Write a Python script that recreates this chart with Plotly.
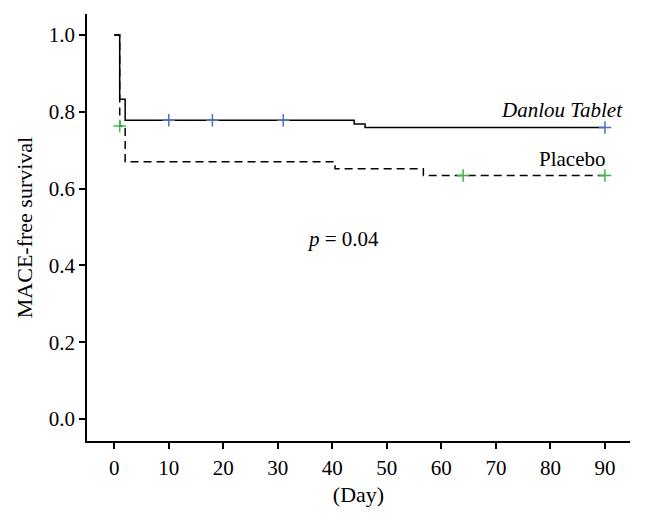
import plotly.graph_objects as go

# Kaplan-Meier step curves
danlou_days = [0, 1, 2, 44, 46, 90]
danlou_surv = [1.0, 0.833, 0.778, 0.768, 0.759, 0.759]
danlou_censor_days = [10, 18, 31, 90]
danlou_censor_surv = [0.778, 0.778, 0.778, 0.759]

placebo_days = [0, 1, 2, 40.5, 56.7, 90]
placebo_surv = [1.0, 0.763, 0.670, 0.652, 0.634, 0.634]
placebo_censor_days = [1, 64, 90]
placebo_censor_surv = [0.763, 0.634, 0.634]

x_ticks = [0, 10, 20, 30, 40, 50, 60, 70, 80, 90]
y_ticks = [0.0, 0.2, 0.4, 0.6, 0.8, 1.0]

FONT = "Liberation Serif"

fig = go.Figure()
fig.add_trace(go.Scatter(x=danlou_days, y=danlou_surv, mode="lines",
                         line=dict(shape="hv", color="black", width=1.5),
                         showlegend=False, hoverinfo="skip"))
fig.add_trace(go.Scatter(x=placebo_days, y=placebo_surv, mode="lines",
                         line=dict(shape="hv", color="black", width=1.5, dash="8px,5px"),
                         showlegend=False, hoverinfo="skip"))
fig.add_trace(go.Scatter(x=danlou_censor_days, y=danlou_censor_surv, mode="markers",
                         marker=dict(symbol="cross-thin", size=9,
                                     line=dict(color="#4f6fc4", width=1.5)),
                         showlegend=False))
fig.add_trace(go.Scatter(x=placebo_censor_days, y=placebo_censor_surv, mode="markers",
                         marker=dict(symbol="cross-thin", size=9,
                                     line=dict(color="#3fb54a", width=1.5)),
                         showlegend=False))

fig.add_annotation(x=93.7, y=0.806, text="<i>Danlou Tablet</i>", showarrow=False,
                   xanchor="right", yanchor="middle",
                   font=dict(family=FONT, size=21, color="black"))
fig.add_annotation(x=90.3, y=0.678, text="Placebo", showarrow=False,
                   xanchor="right", yanchor="middle",
                   font=dict(family=FONT, size=21, color="black"))
fig.add_annotation(x=41.9, y=0.47, text="<i>p</i> = 0.04", showarrow=False,
                   xanchor="center", yanchor="middle",
                   font=dict(family=FONT, size=21, color="black"))

fig.update_layout(
    width=629, height=507,
    margin=dict(l=79, r=7, t=6, b=74),
    paper_bgcolor="white", plot_bgcolor="white",
    font=dict(family=FONT, size=21, color="black"),
    xaxis=dict(range=[-5.0, 94.6], tickvals=x_ticks, ticks="outside", ticklen=6,
               tickwidth=1.5, tickcolor="black", showline=True, linecolor="black",
               linewidth=1.5, showgrid=False, zeroline=False, automargin=False,
               ticklabelstandoff=1,
               title=dict(text="(Day)", font=dict(family=FONT, size=22), standoff=8),
               tickfont=dict(family=FONT, size=21)),
    yaxis=dict(range=[-0.0573, 1.0547], tickvals=y_ticks, tickformat=".1f",
               ticks="outside", ticklen=6, tickwidth=1.5, tickcolor="black",
               showline=True, linecolor="black", linewidth=1.5, showgrid=False,
               zeroline=False, automargin=False,
               title=dict(text="MACE-free survival", font=dict(family=FONT, size=22), standoff=10),
               tickfont=dict(family=FONT, size=21)),
)

fig.write_html("out.html")
